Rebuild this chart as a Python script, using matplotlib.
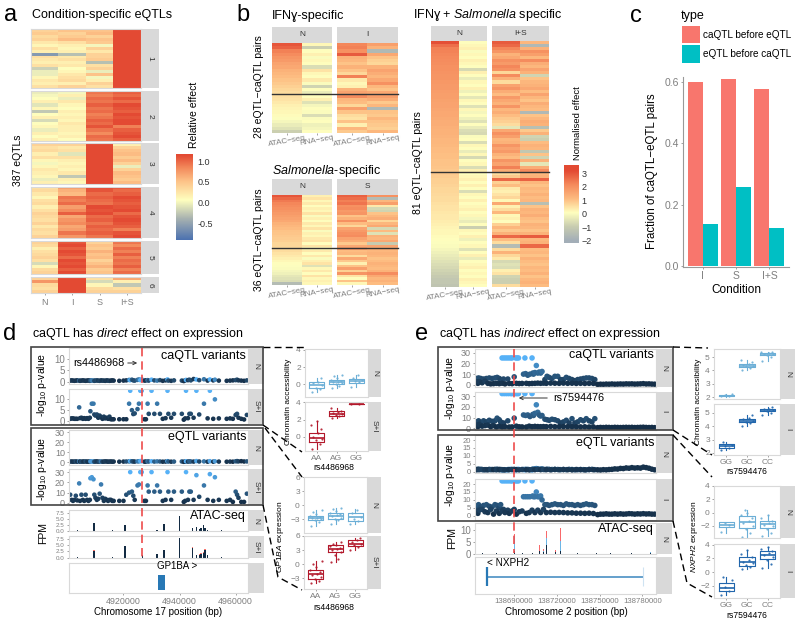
import numpy as np
import matplotlib
matplotlib.use('Agg')
import matplotlib.pyplot as plt
from matplotlib.colors import LinearSegmentedColormap, Normalize
from matplotlib.lines import Line2D
from matplotlib.patches import Rectangle

plt.rcParams['font.family'] = ['Liberation Sans', 'DejaVu Sans']
plt.rcParams['mathtext.fontset'] = 'custom'
plt.rcParams['mathtext.rm'] = 'Liberation Sans'
plt.rcParams['mathtext.it'] = 'Liberation Sans:italic'
plt.rcParams['mathtext.default'] = 'regular'

# panel a: rows are N, I, S, I+S
a1 = [[.3,.4,.4,1],[.35,.3,.45,1],[.25,.35,.3,1],[.3,.45,.4,1],[.15,.2,.35,1],[.05,.1,-.05,1],
      [.2,.05,.3,1],[.1,.1,.15,1],[-.6,-.35,.3,1],[.2,.15,.3,1],[.15,.2,.35,1],[.1,.1,-.35,1],
      [.2,.15,.2,1],[-.25,0,.3,1],[-.1,.05,-.1,1],[-.1,.15,.4,1],[.05,.2,-.05,1],[.15,.25,.1,1],
      [.1,.1,.3,1],[.2,.3,.2,1]]
a2 = [[-.1,-.05,.8,.9],[-.05,.1,.75,.85],[0,-.1,.85,.95],[.1,.15,.8,.85],[-.15,.05,.9,1],[.05,0,.8,.95],
      [-.3,.1,.85,.9],[0,.05,.75,1],[.1,.1,.8,.95],[-.2,.05,.9,1],[0,.15,.85,1],[.05,.1,.95,.75],
      [-.1,.1,.8,.9],[.1,.05,.7,.95],[0,.1,.85,1],[.1,0,.8,.9]]
a3 = [[.3,.3,1,.1],[.2,.15,1,.3],[.25,.2,1,.4],[.1,-.15,1,.45],[.2,.2,1,.35],[.05,.1,1,.45],[-.05,.05,1,.3],
      [.05,.1,1,-.1],[.15,.05,1,.3],[.1,.15,1,.45],[.05,-.3,1,.4],[-.1,.1,1,.35],[.1,.05,1,.45]]
a4 = [[.2,.6,1,.95],[.25,.5,.95,.85],[.15,.45,.85,.9],[.05,.8,.9,1],[.2,.75,.85,.95],[.25,.85,.8,.9],
      [.1,.6,1,.95],[.2,.7,.95,1],[.3,.9,1,.85],[.25,.55,.85,.95],[.2,.65,.9,1],[.3,.7,.8,.95],
      [.15,.55,.9,.9],[.25,.6,.85,.75],[.2,.8,.9,.95],[.3,.65,.8,1]]
a5 = [[.3,.95,.3,.8],[.25,1,.4,.7],[.1,.9,.35,.85],[.2,1,.5,.75],[.25,.95,.4,.9],[.3,.85,.45,.75],
      [.2,1,.3,.85],[-.2,.95,.4,.8],[.05,1,.5,.9],[.25,.9,.35,.75],[.3,1,.4,.85]]
a6 = [[.3,1,.2,.55],[.65,1,-.2,.1],[.25,1,.05,-.3],[.2,1,.25,.2],[.3,1,.3,.3]]
a_clusters = [a1, a2, a3, a4, a5, a6]
a_labels = ['N', 'I', 'S', 'I+S']

# panel b: rows are ATAC N, RNA N, ATAC stim, RNA stim
b_ifn = [[3,.2,2.2,1.7],[2.8,-.9,2.3,1.3],[2.3,.1,2,-1.6],[2.1,.3,2.9,1.5],[1.9,0,1.3,1],[1.8,.2,1.2,.8],
         [1.6,.1,1,.7],[1.5,-.6,1.3,1.3],[1.3,.5,1,1.6],[1.2,.2,.7,1.4],[1.1,.1,2.3,1.2],[1,.4,.4,1.5],
         [.9,0,.2,2],[.8,-.8,.3,1.2],[.7,.1,1.3,1],[.6,-.3,1.6,1.5],[.55,.1,2.1,1.7],[.5,.3,1.2,1.4],
         [.4,-.5,1.1,.9],[.3,-.1,.7,1.2],[.25,.1,1.7,-1.6],[.2,0,1,1],[.15,-.6,.6,.9],[.05,0,.5,1.2],
         [-.1,.1,1,1],[-.3,-.2,.3,.9],[-.5,-.1,1.2,.8],[-.9,.1,.9,1.2]]
b_sal = [[3,.3,2.8,2],[2.7,.5,2.6,-1.5],[2.4,.2,2.3,1.2],[2.2,.4,2.5,1.7],[2.1,.1,2,.4],[2,.3,2.1,-.7],
         [1.9,.2,1.8,-.8],[1.8,.5,1.9,1],[1.7,0,1,1.2],[1.6,.3,1.3,1.4],[1.5,.1,2,.7],[1.3,.4,1.1,1.2],
         [1.2,.2,.7,1.5],[1.1,.5,1.6,-.7],[1,0,1.8,1.1],[.95,.3,2,-.5],[.9,.2,2.1,1.3],[.85,.4,1.6,1.2],
         [.8,.5,1.4,1.5],[.7,.1,.9,-1],[.7,.5,1.5,1.6],[.6,.2,1.7,1.4],[.6,.4,1.1,1.2],[.5,.1,1.2,1.3],
         [.4,.4,.6,1.2],[.3,0,1.5,1],[.2,.3,.9,1.1],[.1,.5,.3,1.3],[.05,-.5,1,1.2],[0,.2,1.7,1.1],
         [-.1,.4,.8,1.3],[-.2,.1,1.9,2.1],[-.4,.5,.5,1.5],[-.5,.2,.1,1.2],[-.6,.3,1,1.3],[-1.5,.2,.2,1.1]]
b_is = [[3.1,.1,2.9,1.2],[2.6,.2,2.7,-1.6],[2.3,.3,2.2,1.3],[2.25,0,1.9,2],[2.2,.2,1.3,1.7],[2.15,.1,1.5,1.2],
        [2.1,.3,2,2.1],[2.05,.2,1.8,1.4],[2,.1,2.2,1.2],[2,-.7,2,1.6],[1.95,.3,.7,1.3],[1.9,.1,2.1,-.8],
        [1.9,-.3,1.3,1],[1.85,.2,.6,1.2],[1.8,.1,1.6,1.3],[1.8,.3,1.9,1.5],[1.75,-.2,1.4,1.1],[1.7,.1,1.1,1.6],
        [1.7,-.4,1.8,1.2],[1.65,.2,1.5,1],[1.6,.1,1.3,1.4],[1.6,-.5,1.9,1.2],[1.55,.2,1.2,1.1],[1.5,-.1,1.4,-1.6],
        [1.5,.1,1.1,1],[1.45,-.2,.9,1.2],[1.4,-.5,.8,1.4],[1.4,.1,.6,1.3],[1.35,-.3,-.4,-1.4],[1.3,-.6,1.5,.9],
        [1.3,-.7,2,1.3],[1.25,0,1.7,-.8],[1.2,.1,1.2,-.9],[1.2,-.6,1.3,1.1],[1.15,.2,1.9,1.3],[1.1,.1,1.6,1.2],
        [1.1,-.3,1.8,-1.1],[1.05,.2,1.3,1],[1.05,-.7,1.1,-.8],[1,.1,1.9,1.3],[1,.2,1.6,-.4],[.95,-.6,2.3,1.4],
        [.9,.3,1.4,2.1],[.9,.1,.6,1.2],[.85,.2,.9,1.3],[.8,.3,2.7,2.8],[.8,.1,.8,1.2],[.75,.3,1.1,1],
        [.7,.1,.4,1.2],[.7,-.6,.3,1.1],[.65,.2,.5,1.3],[.6,.1,.7,1.1],[.6,.3,.2,1.2],[.55,.1,1.5,-1.4],
        [.5,.2,.3,1],[.5,.3,.6,1.3],[.45,.1,1.2,1.2],[.4,.2,.2,1.4],[.4,-.1,.3,1.1],[.35,-.3,.1,1],
        [.3,.1,.8,1.3],[.25,-.9,1.2,1.2],[.2,.2,.9,1],[.2,.1,1.3,1.3],[.15,.3,2.7,2.9],[.1,-.2,1.1,1.2],
        [.05,.1,.6,1.3],[0,.2,-1.5,2.7],[-.1,-.5,.6,1.1],[-.2,.1,1.3,1.2],[-.3,.3,.7,1],[-.4,-.3,.4,1.3],
        [-.5,.1,-.7,1.1],[-.6,.2,-.5,1],[-.7,.3,-.6,1.2],[-.8,.1,.3,1.1],[-.9,.2,.5,1.3],[-1,.1,-.8,1],
        [-1.1,.3,-.9,1.2],[-1.1,.2,-.9,1.3],[-1.2,.1,.6,1.1]]

# panel c
c_conditions = ['I', 'S', 'I+S']
c_ca_first = [0.60, 0.61, 0.578]
c_e_first = [0.138, 0.258, 0.122]

# panel d variants: position in kb after 4900000, then -log10 p per facet
d_pos = [1,1.5,2,2.5,3,3.5,4.2,4.5,5,5.5,6,6.5,7,7.5,8,8.2,8.7,9.3,9.6,10,10.5,11,11.5,12,12.5,13,13.5,14,14.5,15,15.5,16,16.5,
         18.5,20,21,22,22.4,23,23.5,24,25,25.5,26,26.5,27.5,28,28.6,29,30,31,32,33,34,35,35.7,36,37,38,
         40.8,41.5,42,42.3,43,43.5,44,45,46,47,48.7,50,50.8,52,52.6,54,56.8,58,59,60,60.5,61,62,63,64]
d_ca_si = [1,1.2,1.2,1,1,1,6.3,1.3,1.5,1,1.3,1,1.3,1,1.5,4.5,8,8,3,2.5,3,1.5,2.5,1.8,1,2,1.2,1.5,1,2,.8,.8,.8,
           .8,.8,.8,8,14,5,3.2,3.5,5.5,8,14,14,.8,.8,8,3.3,14,3.3,8,3.3,1,1.3,14,3.3,1.5,3.3,
           3.3,.6,1.2,14,1.3,3.3,3.3,1.5,14,3,8,1.2,14,1,10,1.2,1,1.2,1,2.8,3.3,1.5,1,.7,2.8]
d_e_si = [8,3,2,3,7,2.5,19,2,8,3,2,8,3,2,3,24,25,23,8,5,3,4,9,18,5,2,4,3,2,3,3,2,2,
          2,2,8,10,30,11,7,3,17,18,30,30,2,2,17,11,30,11,17,11,2,3,30,11,3,11,
          11,1,2,30,3,11,11,3,27,6,17,3,28,2,25,3,2,3,1,11,8,5,1,1,9]
d_ca_n = [.5,.6,.5,.4,.5,.6,.5,.4,.5,.6,.5,.4,.5,.6,.4,.5,.6,.5,.4,.5,.6,.5,.4,.6,.5,.5,.4,.6,.5,.4,.5,.6,.5,
          .4,.5,.6,.8,.7,.9,.6,.5,.8,1,.7,1.1,.5,.6,.7,.5,.9,.6,.5,.7,.4,.6,1,.5,.4,.6,
          .5,.3,.6,.8,.7,.9,.6,1.2,1,.7,1.1,.5,1,.6,.9,.5,.4,.5,.6,.7,.9,.6,.5,.4,.6]
d_e_n = [.4,.5,.3,.4,.6,.3,.5,.4,.3,.5,.4,.6,.3,.4,.5,.6,.5,.4,.3,.5,.6,.3,.4,.5,.3,.4,.6,.5,.3,.4,.5,.3,.4,
         .3,.4,.5,.6,.8,.7,.5,.4,.6,.7,.9,.8,.3,.4,.6,.5,.7,.4,.6,.5,.3,.4,.8,.5,.3,.4,
         .5,.2,.3,.7,.4,.6,.5,.4,.9,.5,.6,.3,.8,.3,.7,.4,.3,.4,.3,.7,.9,.6,.8,.5,.6]

# panel e variants: kb after 138662700, caQTL N, caQTL I, eQTL N, eQTL I
e_var = [[19,25,32.5,1.2,22],[20.5,25,32.5,1.3,22],[22,25,32.5,1.2,22],[23.5,25,32.5,1.4,22],[25,25,32.5,1.5,22],
         [26,25,32.5,1.3,22],[28.5,25,32.5,1.2,22],[29.5,25,32.5,1.4,22],[30.5,25,32.5,1.5,22],[35,25,32.5,1.3,22],[40,25,32.5,1.2,22],
         [27.5,7.5,9.5,1.5,4],[23,5.5,7,1.3,3.5],[43,18,22,2,15],
         [34,10,12.5,1.4,12],[35.5,10.5,12,1.5,12],[37,9,12.5,1.5,12],[38.5,10,11,1.3,12],[40.5,11,13,1.6,12.5],[41,10,12,1.5,12],
         [42,11.5,14,1.8,12],[44,11,15,1.7,12],[45,12,12.5,1.6,12],[46,11,11.5,1.5,12.5],[47,12.5,12,1.8,10],
         [1,6,6,1.4,6],[2.5,6.5,7,1.6,7],[4,6,5.5,1.5,5.5],[6,5.5,7,1.2,6.5],[8,6,6,1.3,7],[10,6.5,7.5,1.5,6],[12,6,6.5,1.4,5.5],
         [14,6.5,7,1.5,7],[15.5,7,9.5,1.6,6.5],[17,6,8,1.3,5],[18,5,6,1.4,7],[20,5.5,5,1.2,4],
         [49,5,8.5,1.4,7],[50.5,8,8,1.6,7],[52,7,7.5,1.5,6.5],[54,6,8.5,1.4,7],[56,8,8,1.5,7.5],[58,8,7,1.4,7],[60,5,5,1.3,7],
         [62,5,6,1.4,6.5],[64,7,7.5,1.3,7.5],[66,6,5,1.5,7],[68,5,9,1.4,7],[70,4,5,1.2,6.5],[72,5,6,1.3,7],[74,5.5,8,1.4,6.5],
         [76,6,7,1.3,7],[78,6.5,9,1.2,7.5],[80,6.5,7,1.4,7],[82,6,6,1.5,7],[84,5,9,1.3,6.5],
         [1,3,3,1.3,3],[2,1.5,1.5,1.4,1.5],[3,3,3.5,1.3,3.5],[5,2,2,1.4,4],[7,3.5,2.5,1.3,2.5],[9,1.5,3,1.2,2],[11,1,1.5,1.3,4],
         [13,1.2,2.5,1.3,1],[15,1.5,1.2,1.2,3],[17,1.2,2,1.4,1.5],[19,1.6,1.3,1.3,3],[21,1,1.5,1.2,2],[24,1.4,1.2,1.3,1.5],
         [26,1.2,1.3,1.4,3],[29,1.5,2,1.3,1],[31,1.3,1.4,1.2,2.5],[33,1.4,1.3,1.4,3],[36,1.5,1.2,1.3,1.5],[38,1.2,2,1.2,2],
         [40,1.4,1.5,1.4,3.5],[42,1.5,1.8,1.3,2],[44,1.7,1.6,1.5,3.5],[46,1.5,1.5,1.3,2],[48,1.7,1.6,1.4,4],
         [50,1.5,1.5,1.3,2],[53,1.7,1.8,1.2,2.2],[56,1.6,1.5,1.4,2],[59,1.5,1.5,1.3,2.1],[62,1.7,1.6,1.4,2],[65,1.5,1.5,1.3,1.8],
         [68,1.6,1.5,1.2,1.8],[71,1.4,1.4,1.4,1.6],[74,1.5,1.3,1.3,1.6],[77,1.4,1.4,1.2,1.5],[80,1.5,1.2,1.4,1.6],[83,1.4,1.3,1.3,1.4],
         [86,.5,.6,1.2,.7],[88,.7,.8,1.1,1],[90,.6,.7,1.3,1],[92,.8,.9,1.2,1.2],[94,.7,.8,1.4,1],[96,.9,.7,1.5,1],[98,.7,.9,1.8,1.2],
         [100,.8,.8,1.7,1],[102,.9,.7,2.1,1.2],[104,.8,.8,2,1],[106,1,.9,2.4,1.1],[108,.9,.8,2.2,1.3],[110,1,.9,2.6,1.2],
         [112,.8,.7,2.3,1],[114,.9,.8,2.5,1.2],[116,1,.9,2.3,1.1],[118,1.2,1,2.9,1.3],[120,.9,.8,2.6,1.1],[122,1,.7,2.2,1.2],
         [124,.8,.8,1.6,1],[126,.7,.6,1.2,1]]

# ATAC tracks in d: kb position and height
d_atac_pos = [3.5,9.5,16,20.6,26.7,32,34.4,40,44.7,46,47,47.7,48.5,49,50,55]
d_atac_n = [.3,3.1,.2,2.2,0,.1,2.7,6,1.2,1.3,.8,1,2.2,1.2,.4,.1]
d_atac_si = [.3,2.6,.1,4.5,1,1.5,3,8,4,1,1,1.5,2,3,1,.1]
d_atac_red = [0,.5,0,0,0,0,.2,0,.4,0,.3,.3,.2,.4,.2,0]

# ATAC track in e: kb position, dark, light and red parts
e_atac_pos = [5,15,27.5,33,40,45.3,47.7,50.2,56.5,60,72,85,95,110,123]
e_atac_dark = [.2,.3,1,.3,.3,1,.6,3.5,.5,1,.3,.2,.2,.2,.3]
e_atac_light = [0,0,6.5,0,0,0,.4,3,.2,4.5,0,0,0,.1,.3]
e_atac_red = [0,0,1,0,0,2.5,1,3.3,.8,5.3,0,0,0,0,0]

# box plot summaries: low whisker, q1, median, q3, high whisker
d_ca_n_box = [[-.9,-.5,-.1,.2,.7],[-.5,0,.2,.5,1.1],[-.3,.1,.4,.6,1.1]]
d_ca_si_box = [[-1.4,-.6,-.1,.4,1.8],[2.2,2.4,2.7,2.95,3.3],[3.85,3.85,3.85,3.85,3.85]]
d_ex_n_box = [[-4.5,-3.3,-2.8,-2.3,-1],[-4,-3,-2.3,-1.7,-.6],[-4,-3.4,-2.6,-1.7,-.9]]
d_ex_si_box = [[-4,-3.1,-2.2,-1.3,.6],[.4,2.6,3.3,4,4.8],[3,3.8,4.4,5.1,5.6]]
e_ca_n_box = [[2.0,2.05,2.1,2.15,2.2],[4.05,4.25,4.35,4.5,4.8],[4.7,5.15,5.2,5.3,5.4]]
e_ca_i_box = [[2.2,2.35,2.5,2.65,2.8],[4,4.3,4.4,4.5,4.8],[4.8,5.1,5.2,5.3,5.4]]
e_ex_n_box = [[-3,-2.2,-1.8,-1.4,-1.4],[-3.6,-2.3,-1.4,-.5,.4],[-3.5,-2.3,-1.7,-1.2,-.3]]
e_ex_i_box = [[-3.3,-2.8,-2.3,-1.6,-.7],[.4,.9,1.5,2.2,3.2],[.6,1.9,2.5,3.1,3.7]]

# jittered samples shown on the boxes
d_ca_n_pts = [[-.9,-.6,-.4,-.1,.1,.3,.7],[-.5,-.2,0,.1,.2,.3,.4,.5,.7,.9,1.1],[-.3,.2,.4,.5,.7,1.1]]
d_ca_si_pts = [[-1.4,-.8,-.4,-.2,0,.4,.9,1.4,1.8],[2.2,2.4,2.5,2.7,2.8,2.9,3,3.3],[3.85,3.85]]
d_ex_n_pts = [[-4.6,-3.6,-3.2,-3,-2.8,-2.7,-2.5,-2.3,-2,-1.5,-1],[-4,-3.3,-3,-2.7,-2.4,-2.2,-2,-1.7,-1.3,-.9,-.6],[-4,-3.5,-3,-2.5,-1.8,-1]]
d_ex_si_pts = [[-4,-3.5,-3.1,-2.8,-2.4,-2,-1.6,-1.2,-.6,0,.6],[.4,1,2,2.6,3,3.3,3.5,3.8,4,4.4,4.8],[3,3.6,4,4.4,4.8,5.1,5.6]]
e_ca_n_pts = [[2.05,2.1,2.15,2.2],[4.05,4.2,4.3,4.35,4.4,4.5,4.6,4.8],[4.7,5,5.15,5.2,5.25,5.3,5.35,5.4]]
e_ca_i_pts = [[2.2,2.4,2.5,2.6,2.8],[4,4.2,4.3,4.4,4.5,4.6,4.8],[4.8,5,5.1,5.2,5.25,5.3,5.4]]
e_ex_n_pts = [[-2.9,-1.8,-1.5],[-3.6,-3,-2.5,-2,-1.5,-1.2,-.8,-.3,0,.4],[-3.5,-3,-2.5,-2,-1.8,-1.5,-1.2,-.8,-.3]]
e_ex_i_pts = [[-3.3,-2.8,-2.2,-1.2,-.7],[.4,.7,1,1.3,1.5,1.8,2.2,2.6,3.2],[.6,1.2,1.8,2.2,2.5,2.8,3.1,3.4,3.7]]
jitter = [-.25,.15,-.05,.28,-.18,.08,.22,-.3,.02,-.12,.3]

GRAY = '#d9d9d9'
TICK = '#7f7f7f'
W, H = 800, 624
fig = plt.figure(figsize=(8, 6.24), dpi=100)

def ax_px(x0, y0, x1, y1):
    ax = fig.add_axes([x0 / W, 1 - y1 / H, (x1 - x0) / W, (y1 - y0) / H])
    for s in ax.spines.values():
        s.set_color(GRAY)
        s.set_linewidth(0.8)
    ax.tick_params(colors=TICK, labelcolor=TICK, labelsize=7, length=1.5, width=0.5, pad=1.5)
    return ax

def text_px(x, y, s, size=8, color='black', ha='center', rot=0, **kw):
    fig.text(x / W, 1 - y / H, s, fontsize=size, color=color, ha=ha, va='center', rotation=rot, **kw)

def rect_px(x0, y0, x1, y1, face='none', edge='none', lw=0, z=1):
    fig.add_artist(Rectangle((x0 / W, 1 - y1 / H), (x1 - x0) / W, (y1 - y0) / H, facecolor=face,
                             edgecolor=edge, linewidth=lw, transform=fig.transFigure, zorder=z))

def strip_px(x0, y0, x1, y1, label='', rot=0):
    rect_px(x0, y0, x1, y1, face=GRAY)
    if label:
        text_px((x0 + x1) / 2, (y0 + y1) / 2, label, size=6, color='#333333', rot=rot, zorder=3)

def line_px(xs, ys, color='black', lw=1.0, dashes=(5, 3), z=6):
    fig.add_artist(Line2D([x / W for x in xs], [1 - y / H for y in ys], color=color, lw=lw,
                          dashes=dashes, transform=fig.transFigure, zorder=z))

# ---------- a ----------
cmap_a = LinearSegmentedColormap.from_list('a', [(0, '#4c72b0'), (.25, '#a8b2b0'), (.47, '#ffffbf'),
                                                 (.7, '#fdc086'), (.85, '#f38a5c'), (1, '#e34a33')])
norm_a = Normalize(-0.9, 1.0)
a_y = [(29, 88), (91, 141), (143, 184), (187, 238), (241, 274), (277, 293)]
for k, (rows, (y0, y1)) in enumerate(zip(a_clusters, a_y)):
    ax = ax_px(31, y0, 141, y1)
    ax.imshow(np.array(rows), aspect='auto', cmap=cmap_a, norm=norm_a, interpolation='nearest')
    ax.set_xticks([])
    ax.set_yticks([])
    strip_px(141, y0, 159, y1, str(k + 1), rot=-90)
ax.set_xticks(range(4))
ax.set_xticklabels(a_labels, fontsize=6.5)
ax.tick_params(axis='x', pad=2)
text_px(18, 160, '387 eQTLs', size=7.5, rot=90)
text_px(11, 15, 'a', size=17)
text_px(32, 15, 'Condition-specific eQTLs', size=9, ha='left')

cax = ax_px(176, 154, 193, 240)
cax.imshow(np.linspace(1.02, -0.9, 200)[:, None], aspect='auto', cmap=cmap_a, norm=norm_a,
           extent=[0, 1, -0.9, 1.17])
cax.set_xticks([])
cax.yaxis.tick_right()
cax.set_yticks([-.5, 0, .5, 1])
cax.set_yticklabels(['-0.5', '0.0', '0.5', '1.0'], fontsize=6.5, color='#333333')
cax.tick_params(axis='y', length=0, pad=3)
for s in cax.spines.values():
    s.set_visible(False)
text_px(194, 115, 'Relative effect', size=7.5, rot=90)

# ---------- b ----------
cmap_b = LinearSegmentedColormap.from_list('b', [(0, '#a3aeb8'), (.2, '#c8ccb0'), (.4, '#ffffbf'),
                                                 (.6, '#fdbb80'), (.8, '#f58a5c'), (1, '#e34a33')])
norm_b = Normalize(-2, 3.2)

def heat_pair(x0, x1, x2, x3, ys, ye, strip_top, rows, lab2, line_y):
    rows = np.array(rows)
    for (a, b, cols, lab) in [(x0, x1, [0, 1], 'N'), (x2, x3, [2, 3], lab2)]:
        ax = ax_px(a, ys, b, ye)
        ax.imshow(rows[:, cols], aspect='auto', cmap=cmap_b, norm=norm_b, interpolation='nearest')
        ax.set_yticks([])
        ax.set_xticks([0, 1])
        ax.set_xticklabels([])
        ax.tick_params(axis='x', length=1.5)
        for s in ax.spines.values():
            s.set_visible(False)
        strip_px(a, strip_top, b, ys, lab)
        for c, s in zip([.25, .75], ['ATAC\u2212seq', 'RNA\u2212seq']):
            text_px(a + (b - a) * c, ye + 8, s, size=5.8, color=TICK, rot=10)
    line_px([x0, x3], [line_y, line_y], color='#333333', lw=1.0, dashes=(None, None))

heat_pair(272, 332, 337, 398, 43, 133, 27, b_ifn, 'I', 93.7)
heat_pair(272, 332, 337, 398, 195, 285, 179, b_sal, 'S', 248)
heat_pair(431, 487, 492, 549, 41, 287, 26, b_is, 'I+S', 171.7)
text_px(243, 15, 'b', size=17)
text_px(272, 16, 'IFN\u0263-specific', size=9, ha='left')
text_px(272, 171, '$\\mathit{Salmonella}$-specific', size=9, ha='left')
text_px(413, 15, 'IFN\u0263 + $\\mathit{Salmonella}$ specific', size=9, ha='left')
text_px(259, 87, '28 eQTL\u2212caQTL pairs', size=7.5, rot=90)
text_px(259, 240, '36 eQTL\u2212caQTL pairs', size=7.5, rot=90)
text_px(418, 163, '81 eQTL\u2212caQTL pairs', size=7.5, rot=90)

cax = ax_px(564, 165, 579, 243)
cax.imshow(np.linspace(3.6, -2.15, 200)[:, None], aspect='auto', cmap=cmap_b, norm=norm_b,
           extent=[0, 1, -2.15, 3.6])
cax.set_xticks([])
cax.yaxis.tick_right()
cax.set_yticks([-2, -1, 0, 1, 2, 3])
cax.set_yticklabels(['\u22122', '\u22121', '0', '1', '2', '3'], fontsize=6.5, color='#333333')
cax.tick_params(axis='y', length=0, pad=2)
for s in cax.spines.values():
    s.set_visible(False)
text_px(578, 123, 'Normalised effect', size=6.8, rot=90)

# ---------- c ----------
ax = ax_px(683, 77, 789, 267)
xpos = np.arange(3)
ax.bar(xpos - .225, c_ca_first, width=.45, color='#F8766D')
ax.bar(xpos + .225, c_e_first, width=.45, color='#00BFC4')
ax.set_xlim(-.6, 2.59)
ax.set_ylim(-.004, .617)
ax.set_xticks(xpos)
ax.set_xticklabels(c_conditions)
ax.set_yticks([0, .2, .4, .6])
ax.set_yticklabels(['0.0', '0.2', '0.4', '0.6'])
ax.tick_params(labelsize=7.5)
ax.spines['top'].set_visible(False)
ax.spines['right'].set_visible(False)
ax.spines['left'].set_color('#999999')
ax.spines['bottom'].set_color('#999999')
text_px(652, 171, 'Fraction of caQTL\u2212eQTL pairs', size=8.3, rot=90)
text_px(736, 290, 'Condition', size=8.5)
text_px(636, 16, 'c', size=17)
text_px(681, 16, 'type', size=9, ha='left')
rect_px(682, 26, 700, 43, face='#F8766D')
rect_px(682, 45, 700, 63, face='#00BFC4')
text_px(703, 35, 'caQTL before eQTL', size=7.2, ha='left')
text_px(703, 54, 'eQTL before caQTL', size=7.2, ha='left')

# ---------- locus panels ----------
cmap_dot = LinearSegmentedColormap.from_list('dot', ['#132B43', '#56B1F7'])

def dots(y0, y1, x0, x1, xs, ys, cs, vmax, ylim, yticks, xlim, label, strip_x, size=11, ticksize=7):
    ax = ax_px(x0, y0, x1, y1)
    ax.scatter(xs, ys, c=cs, cmap=cmap_dot, vmin=0, vmax=vmax, s=size, linewidths=0, clip_on=True)
    ax.set_xlim(xlim)
    ax.set_ylim(ylim)
    ax.set_yticks(yticks)
    ax.set_xticks([])
    ax.tick_params(axis='y', labelsize=ticksize)
    strip_px(x1, y0, strip_x, y1, label, rot=-90)
    return ax

# d
d_xlim = (0.57, 64.4)
dots(348, 384, 69, 248, d_pos, d_ca_n, d_ca_si, 14, (-1, 14.9), [0, 5, 10], d_xlim, 'N', 264)
ax_d = dots(389, 424, 69, 248, d_pos, d_ca_si, d_ca_si, 14, (-1.4, 14.8), [0, 5, 10], d_xlim, 'S+I', 264)
dots(430, 465, 69, 248, d_pos, d_e_n, d_e_si, 30, (-3, 32), [0, 10, 20, 30], d_xlim, 'N', 264, ticksize=6.5)
dots(469, 505, 69, 248, d_pos, d_e_si, d_e_si, 30, (-2, 33), [0, 10, 20, 30], d_xlim, 'S+I', 264, ticksize=6.5)

def bars_d(y0, y1, heights, reds, label):
    ax = ax_px(69, y0, 248, y1)
    ax.bar(d_atac_pos, heights, width=.5, color='#132B43')
    ax.bar(d_atac_pos, reds, width=.5, bottom=heights, color='#f8766d')
    ax.axhline(0, color='#b8c4d0', lw=.6, zorder=0)
    ax.set_xlim(d_xlim)
    ax.set_ylim(-.2, 8.6)
    ax.set_yticks([0, 2.5, 5, 7.5])
    ax.set_yticklabels(['0.0', '2.5', '5.0', '7.5'], fontsize=4.5)
    ax.set_xticks([])
    strip_px(248, y0, 264, y1, label, rot=-90)

bars_d(510, 531, d_atac_n, [0] * len(d_atac_n), 'N')
bars_d(536, 558, d_atac_si, d_atac_red, 'S+I')
ax = ax_px(69, 563, 248, 593)
ax.barh([0], [2.4], left=32.3, height=.75, color='#2878b5')
ax.set_xlim(d_xlim)
ax.set_ylim(-.55, 1.0)
ax.set_yticks([])
ax.set_xticks([20, 40, 60])
ax.set_xticklabels(['4920000', '4940000', '4960000'])
ax.tick_params(axis='x', labelsize=6.4)
strip_px(248, 563, 264, 593)
text_px(157, 566, 'GP1BA >', size=7, ha='left', zorder=5)
red_x = ax_d.transData.transform((26.7, 0))[0]
line_px([red_x, red_x], [348, 558], color='#ee4b4b', lw=1.2, dashes=(5, 3))
rect_px(31, 347, 263, 425, edge='#444444', lw=1.2, z=5)
rect_px(31, 428, 263, 505, edge='#444444', lw=1.2, z=5)
text_px(10, 334, 'd', size=17)
text_px(32, 334, 'caQTL has $\\mathit{direct}$ effect on expression', size=9, ha='left')
text_px(246, 356, 'caQTL variants', size=9, ha='right', zorder=7)
text_px(246, 437, 'eQTL variants', size=9, ha='right', zorder=7)
text_px(246, 516, 'ATAC-seq', size=9, ha='right', zorder=7)
text_px(73, 363, 'rs4486968', size=7.8, ha='left', zorder=7)
fig.add_artist(matplotlib.patches.FancyArrowPatch((125 / W, 1 - 363 / H), (140 / W, 1 - 363 / H), arrowstyle='->',
               mutation_scale=6, lw=.7, color='#333333', transform=fig.transFigure, zorder=7))
text_px(42, 385, '-log$_{10}$ p-value', size=7.5, rot=90)
text_px(42, 469, '-log$_{10}$ p-value', size=7.5, rot=90)
text_px(43, 533, 'FPM', size=7.5, rot=90)
text_px(158, 612, 'Chromosome 17 position (bp)', size=7)

# e
e_var = np.array(e_var)
e_xlim = (0, 126.9)
ex = e_var[:, 0]
dots(349, 387, 475, 656, ex, e_var[:, 1], e_var[:, 1], 25, (-1.9, 33.3), [0, 10, 20, 30], e_xlim, 'N', 672, 16, 6.5)
ax_e = dots(392, 430, 475, 656, ex, e_var[:, 2], e_var[:, 2], 32.5, (-1.6, 34), [0, 10, 20, 30], e_xlim, 'I', 672, 16, 6.5)
dots(435, 473, 475, 656, ex, e_var[:, 3], e_var[:, 4], 22, (-.8, 23.2), [0, 5, 10, 15, 20], e_xlim, 'N', 672, 16, 5.5)
dots(479, 520, 475, 656, ex, e_var[:, 4], e_var[:, 4], 22, (-2.7, 23.2), [0, 5, 10, 15, 20], e_xlim, 'I', 672, 16, 5.5)
ax = ax_px(475, 523, 656, 554)
ax.bar(e_atac_pos, e_atac_dark, width=.7, color='#132B43')
ax.bar(e_atac_pos, e_atac_light, width=.7, bottom=e_atac_dark, color='#6cb6e6')
tops = np.array(e_atac_dark) + np.array(e_atac_light)
ax.bar(e_atac_pos, e_atac_red, width=.7, bottom=tops, color='#f8696b')
ax.axhline(0, color='#b8c4d0', lw=.6, zorder=0)
ax.set_xlim(e_xlim)
ax.set_ylim(-.2, 13)
ax.set_yticks([0, 5, 10])
ax.set_xticks([])
strip_px(656, 523, 672, 554, 'N', rot=-90)
ax = ax_px(475, 557, 656, 594)
ax.hlines(0, 8.6, 117.8, color='#4a90c4', lw=1.2)
ax.vlines(8.6, -.55, .55, color='#2878b5', lw=1.6)
ax.vlines(117.8, -.55, .55, color='#cfe3f2', lw=.8)
ax.set_xlim(e_xlim)
ax.set_ylim(-1, 1.15)
ax.set_yticks([])
ax.set_xticks([27.3, 57.3, 87.3, 117.3])
ax.set_xticklabels(['138690000', '138720000', '138750000', '138780000'])
ax.tick_params(axis='x', labelsize=5.6)
strip_px(656, 557, 672, 594)
text_px(487, 563, '< NXPH2', size=7.2, ha='left', zorder=5)
red_x = ax_e.transData.transform((27.5, 0))[0]
line_px([red_x, red_x], [349, 553], color='#ee4b4b', lw=1.2, dashes=(5, 3))
rect_px(438, 347, 673, 430, edge='#444444', lw=1.2, z=5)
rect_px(438, 435, 673, 521, edge='#444444', lw=1.2, z=5)
text_px(422, 334, 'e', size=17)
text_px(439, 334, 'caQTL has $\\mathit{indirect}$ effect on expression', size=9, ha='left')
text_px(654, 355, 'caQTL variants', size=9, ha='right', zorder=7)
text_px(654, 443, 'eQTL variants', size=9, ha='right', zorder=7)
text_px(654, 529, 'ATAC-seq', size=9, ha='right', zorder=7)
text_px(553, 398, 'rs7594476', size=7.8, ha='left', zorder=7)
fig.add_artist(matplotlib.patches.FancyArrowPatch((550 / W, 1 - 398 / H), (516 / W, 1 - 398 / H), arrowstyle='->',
               mutation_scale=6, lw=.7, color='#333333', transform=fig.transFigure, zorder=7))
text_px(450, 388, '-log$_{10}$ p-value', size=7.5, rot=90)
text_px(450, 475, '-log$_{10}$ p-value', size=7.5, rot=90)
text_px(452, 538, 'FPM', size=7.5, rot=90)
text_px(566, 612, 'Chromosome 2 position (bp)', size=7)

# ---------- box panels ----------
def box_panel(x0, y0, x1, y1, sx, stats, pts, col, ylim, yticks, label, ticklabels=None):
    ax = ax_px(x0, y0, x1, y1)
    bx = [dict(whislo=s[0], q1=s[1], med=s[2], q3=s[3], whishi=s[4], fliers=[]) for s in stats]
    ax.bxp(bx, positions=[0, 1, 2], widths=.75, showcaps=False, showfliers=False,
           boxprops=dict(color=col, lw=.8), medianprops=dict(color=col, lw=1.2),
           whiskerprops=dict(color=col, lw=.8), manage_ticks=False)
    for i, ys in enumerate(pts):
        xs = [i + jitter[k % len(jitter)] for k in range(len(ys))]
        ax.scatter(xs, ys, s=2.5, color=col, linewidths=0, alpha=.9)
    ax.set_xlim(-.6, 2.6)
    ax.set_ylim(ylim)
    ax.set_yticks(yticks)
    ax.set_xticks([0, 1, 2])
    if ticklabels:
        ax.set_xticklabels(ticklabels)
    else:
        ax.set_xticklabels([])
        ax.tick_params(axis='x', length=0)
    ax.tick_params(labelsize=6)
    strip_px(x1, y0, sx, y1, label, rot=-90)

LIGHT = '#6baed6'
RED = '#b2182b'
DARK = '#2166ac'
d_geno = ['AA', 'AG', 'GG']
e_geno = ['GG', 'GC', 'CC']
box_panel(305, 349, 368, 397, 381, d_ca_n_box, d_ca_n_pts, LIGHT, (-1.5, 4.1), [0, 2, 4], 'N')
box_panel(305, 402, 368, 451, 381, d_ca_si_box, d_ca_si_pts, RED, (-1.65, 4.05), [0, 2, 4], 'S+I', d_geno)
box_panel(304, 477, 367, 533, 381, d_ex_n_box, d_ex_n_pts, LIGHT, (-6, 6.05), [-3, 0, 3, 6], 'N')
box_panel(304, 536, 367, 589, 381, d_ex_si_box, d_ex_si_pts, RED, (-5.3, 6), [-3, 0, 3, 6], 'S+I', d_geno)
box_panel(714, 349, 780, 399, 795, e_ca_n_box, e_ca_n_pts, LIGHT, (1.85, 5.6), [2, 3, 4, 5], 'N')
box_panel(714, 404, 780, 455, 795, e_ca_i_box, e_ca_i_pts, DARK, (1.85, 5.65), [2, 3, 4, 5], 'I', e_geno)
box_panel(714, 486, 780, 538, 795, e_ex_n_box, e_ex_n_pts, LIGHT, (-3.8, 4), [-2, 0, 2, 4], 'N')
box_panel(714, 544, 780, 598, 795, e_ex_i_box, e_ex_i_pts, DARK, (-3.8, 4.1), [-2, 0, 2, 4], 'I', e_geno)
text_px(289, 402, 'Chromatin accessibility', size=6, rot=90, zorder=7)
text_px(281, 537, '$\\mathit{GP1BA}$ expression', size=6, rot=90, zorder=7)
text_px(698, 402, 'Chromatin accessibility', size=6, rot=90, zorder=7)
text_px(694, 537, '$\\mathit{NXPH2}$ expression', size=6, rot=90, zorder=7)
text_px(334, 467, 'rs4486968', size=6.2)
text_px(334, 607, 'rs4486968', size=6.2)
text_px(747, 472, 'rs7594476', size=6.2)
text_px(747, 615, 'rs7594476', size=6.2)

# dashed connectors between the boxes and the box plots
line_px([263, 305], [347, 347], lw=1.0)
line_px([263, 302], [425, 452], lw=1.0)
line_px([265, 302], [428, 477], lw=1.0)
line_px([263, 278, 302], [505, 577, 590], lw=1.0)
line_px([673, 708], [347, 348], lw=1.0)
line_px([673, 712], [430, 455], lw=1.0)
line_px([673, 712], [435, 477], lw=1.0)
line_px([673, 687, 712], [521, 583, 597], lw=1.0)

fig.savefig('out.png', dpi=100)
